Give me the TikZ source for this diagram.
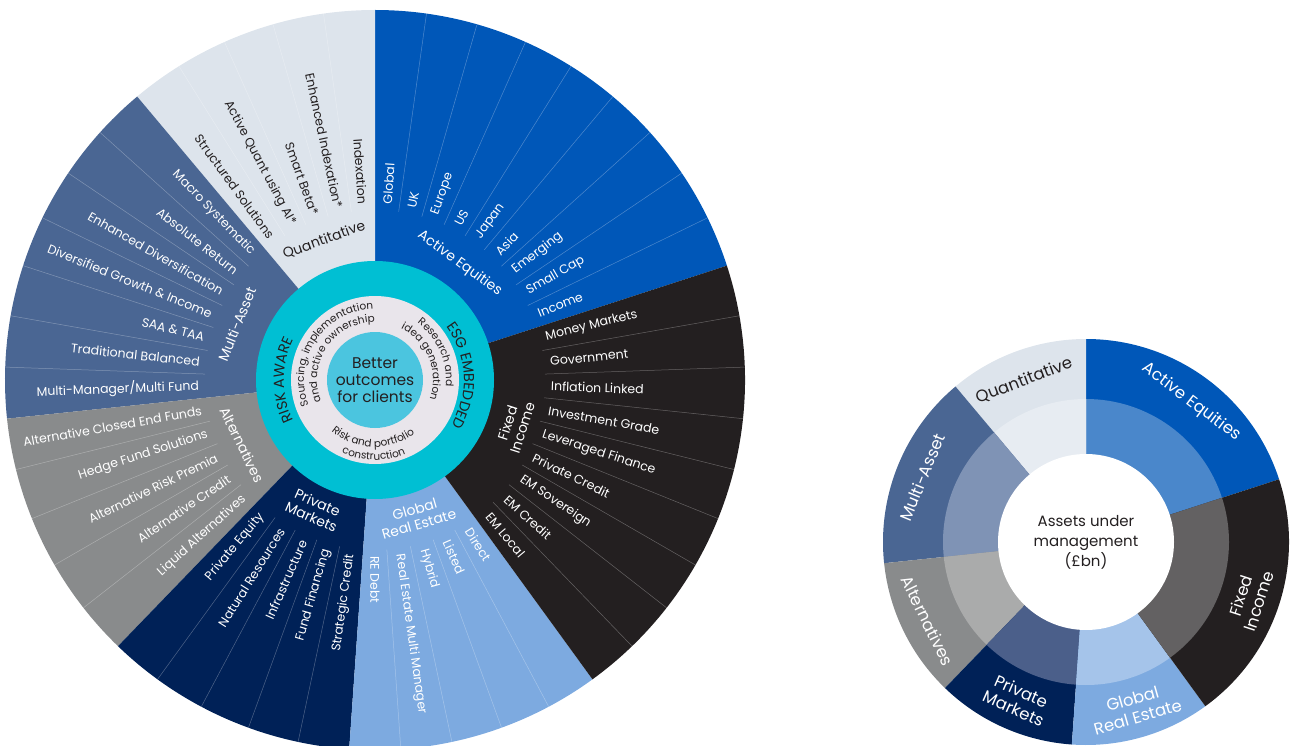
\documentclass[tikz,border=0pt]{standalone}
\usepackage{fontspec}
\setmainfont{Poppins}
\usetikzlibrary{decorations.text}

\definecolor{aeq}{HTML}{0057B8}
\definecolor{aeqlt}{HTML}{4A87CB}
\definecolor{fxi}{HTML}{231F20}
\definecolor{fxilt}{HTML}{636162}
\definecolor{gre}{HTML}{7DAAE0}
\definecolor{grelt}{HTML}{A5C4EA}
\definecolor{pvm}{HTML}{002157}
\definecolor{pvmlt}{HTML}{4B5F8A}
\definecolor{alt}{HTML}{898B8C}
\definecolor{altlt}{HTML}{AAABAB}
\definecolor{mas}{HTML}{4A6693}
\definecolor{maslt}{HTML}{7F93B5}
\definecolor{qnt}{HTML}{DDE4EC}
\definecolor{qntlt}{HTML}{E7ECF2}
\definecolor{ringteal}{HTML}{00BFD3}
\definecolor{ringgrey}{HTML}{E9E5EB}
\definecolor{core}{HTML}{4BC5DF}
\definecolor{ink}{HTML}{231F20}

\begin{document}
\begin{tikzpicture}[x=1pt, y=1pt,
  sub/.style={font=\fontsize{12.5}{13}\selectfont, text=white, inner sep=0pt},
  grp/.style={font=\fontsize{14}{15.5}\selectfont, text=white, align=center, inner sep=0pt},
  biglab/.style={font=\fontsize{16.5}{19}\selectfont, text=white, align=center, inner sep=0pt},
  sep/.style={white, opacity=0.3, line width=0.5pt}]
\useasboundingbox (0,0) rectangle (1291,-746);
\coordinate (bc) at (375,-380);
\coordinate (sc) at (1086,-542);

% large wheel
\begin{scope}[shift={(bc)}]
\foreach \a/\b/\col/\n in {18/90/aeq/9, 90/130/qnt/5, 130/186/mas/7, 186/226/alt/5,
    226/266/pvm/5, 266/306/gre/5, 306/378/fxi/9}{
  \fill[\col] (0,0) -- (\a:370) arc[start angle=\a, end angle=\b, radius=370] -- cycle;
  \foreach \k in {2,...,\n}
    \draw[sep] ({\a+8*(\k-1)}:170) -- ({\a+8*(\k-1)}:370);
}
\fill[ringteal] (0,0) circle[radius=119];
\fill[ringgrey] (0,0) circle[radius=84];
\fill[core] (0,0) circle[radius=48];
\node[font=\fontsize{15.5}{17}\selectfont, text=ink, align=center] (better) at (0,0) {Better\\outcomes\\for clients};

% curved ring texts
\path[decorate, decoration={text along path, text align=center, text color=ink,
  text={|\fontsize{14.5}{15}\selectfont|RISK AWARE}}]
  (250:91) arc[start angle=250, end angle=110, radius=91];
\path[decorate, decoration={text along path, text align=center, text color=ink,
  text={|\fontsize{14.5}{15}\selectfont|ESG EMBEDDED}}]
  (73:89) arc[start angle=73, end angle=-67, radius=89];
\path[decorate, decoration={text along path, text align=center, text color=ink,
  text={|\fontsize{10.5}{11}\selectfont|Sourcing, implementation}}]
  (226:71) arc[start angle=226, end angle=66, radius=71];
\path[decorate, decoration={text along path, text align=center, text color=ink,
  text={|\fontsize{10.5}{11}\selectfont|and active ownership}}]
  (226:58) arc[start angle=226, end angle=66, radius=58];
\path[decorate, decoration={text along path, text align=center, text color=ink,
  text={|\fontsize{10.5}{11}\selectfont|Research and}}]
  (104:71) arc[start angle=104, end angle=-56, radius=71];
\path[decorate, decoration={text along path, text align=center, text color=ink,
  text={|\fontsize{10.5}{11}\selectfont|idea generation}}]
  (102:58) arc[start angle=102, end angle=-58, radius=58];
\path[decorate, decoration={text along path, text align=center, text color=ink,
  text={|\fontsize{10.5}{11}\selectfont|Risk and portfolio}}]
  (188:67) arc[start angle=188, end angle=348, radius=67];
\path[decorate, decoration={text along path, text align=center, text color=ink,
  text={|\fontsize{10.5}{11}\selectfont|construction}}]
  (189:80) arc[start angle=189, end angle=349, radius=80];

% group labels
\node[grp, rotate=-36] (aeqlab) at (54:144) {Active Equities};
\node[grp, rotate=20, text=ink] (qntlab) at (110:149) {Quantitative};
\node[grp, rotate=68] (maslab) at (158:149) {Multi-Asset};
\node[grp, rotate=296] (altlab) at (206:148) {Alternatives};
\node[grp, rotate=336] (pvmlab) at (245:143) {Private\\Markets};
\node[grp, rotate=16] (grelab) at (287:143) {Global\\Real Estate};
\node[grp, rotate=72] (fxilab) at (342:147) {Fixed\\Income};

% item labels, right half
\foreach \t/\txt in {86/Global, 78/UK, 70/Europe, 62/US, 54/Japan, 46/Asia,
    38/Emerging, 30/Small Cap, 22/Income,
    14/Money Markets, 6/Government, -2/Inflation Linked, -10/Investment Grade,
    -18/Leveraged Finance, -26/Private Credit, -34/EM Sovereign, -42/EM Credit,
    -50/EM Local, -58/Direct, -66/Listed, -74/Hybrid, -82/Real Estate Multi Manager,
    -90/RE Debt}
  \node[sub, anchor=west, rotate=\t] (item\t) at (\t:176) {\txt};
% item labels, left half
\foreach \t/\txt in {262/Strategic Credit, 254/Fund Financing, 246/Infrastructure,
    238/Natural Resources, 230/Private Equity,
    222/Liquid Alternatives, 214/Alternative Credit, 206/Alternative Risk Premia,
    198/Hedge Fund Solutions, 190/Alternative Closed End Funds,
    182/{Multi-Manager/Multi Fund}, 174/Traditional Balanced, 166/SAA \& TAA,
    158/Diversified Growth \& Income, 150/Enhanced Diversification,
    142/Absolute Return, 134/Macro Systematic}
  \node[sub, anchor=east, rotate=\t-180] (item\t) at (\t:176) {\txt};
\foreach \t/\txt in {126/Structured Solutions, 118/Active Quant using AI*,
    110/Smart Beta*, 102/Enhanced Indexation*, 94/Indexation}
  \node[sub, anchor=east, rotate=\t-180, text=ink] (item\t) at (\t:176) {\txt};
\end{scope}

% small wheel
\begin{scope}[shift={(sc)}]
\foreach \a/\b/\col/\lig in {18/90/aeq/aeqlt, 90/130/qnt/qntlt, 130/186/mas/maslt,
    186/226/alt/altlt, 226/266/pvm/pvmlt, 266/306/gre/grelt, 306/378/fxi/fxilt}{
  \fill[\col] (0,0) -- (\a:203) arc[start angle=\a, end angle=\b, radius=203] -- cycle;
  \fill[\lig] (0,0) -- (\a:143) arc[start angle=\a, end angle=\b, radius=143] -- cycle;
}
\fill[white] (0,0) circle[radius=88];
\node[font=\fontsize{15}{20}\selectfont, text=ink, align=center] (aum) at (0,0) {Assets under\\management\\(£bn)};
\node[biglab, rotate=-37] (saeq) at (53:175) {Active Equities};
\node[biglab, rotate=21, text=ink] (sqnt) at (111:173) {Quantitative};
\node[biglab, rotate=68] (smas) at (158.5:176) {Multi-Asset};
\node[biglab, rotate=296] (salt) at (206.5:177) {Alternatives};
\node[biglab, rotate=336] (spvm) at (246.5:172) {Private\\Markets};
\node[biglab, rotate=16] (sgre) at (286.5:173) {Global\\Real Estate};
\node[biglab, rotate=72] (sfxi) at (341:173) {Fixed\\Income};
\end{scope}
\end{tikzpicture}
\end{document}
